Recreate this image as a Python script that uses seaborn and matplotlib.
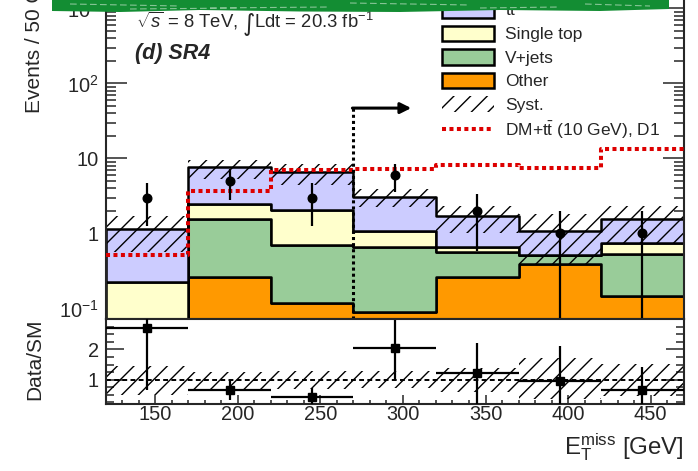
import numpy as np
import pandas as pd
import matplotlib
matplotlib.use("Agg")
import matplotlib.pyplot as plt
from matplotlib.patches import Patch, Polygon
from matplotlib.lines import Line2D
from matplotlib.ticker import MultipleLocator, LogLocator, NullFormatter, FixedLocator, FixedFormatter
import seaborn as sns

# ---- binning in E_T^miss [GeV] ----
bin_edges = [120, 170, 220, 270, 320, 370, 420, 470]
bin_centers = [145, 195, 245, 295, 345, 395, 445]

# ---- expected SM backgrounds per bin (events / 50 GeV) ----
bkg_other = [0.0, 0.262, 0.118, 0.089, 0.262, 0.394, 0.146]
bkg_vjets = [0.0, 1.308, 0.595, 0.568, 0.302, 0.126, 0.390]
bkg_single_top = [0.224, 0.870, 1.317, 0.413, 0.106, 0.0, 0.207]
bkg_ttbar = [0.931, 5.210, 4.540, 1.980, 1.030, 0.550, 0.797]

# ---- systematic uncertainty band on the total SM ----
syst_low = [0.57, 5.35, 4.47, 2.24, 1.00, 0.39, 0.72]
syst_high = [1.69, 9.60, 8.40, 3.94, 2.36, 1.83, 2.33]

# ---- signal: DM + ttbar (10 GeV), D1 ----
signal_dm = [0.52, 3.66, 7.07, 7.30, 8.07, 7.40, 13.2]

# ---- observed data ----
data_obs = [3, 5, 3, 6, 2, 1, 1]
data_err_low = [1.73, 2.24, 1.73, 2.45, 1.41, 0.99, 0.99]
data_err_high = [1.73, 2.24, 1.73, 2.45, 1.41, 1.00, 1.00]

# ---- data / SM ratio ----
ratio_val = [2.71, 0.66, 0.44, 2.06, 1.23, 0.97, 0.66]
ratio_err_low = [2.05, 0.33, 0.50, 1.02, 1.10, 1.00, 0.70]
ratio_err_high = [1.00, 0.33, 0.28, 0.91, 0.99, 1.14, 0.76]

# ---- signal-region cut ----
cut_met = 270
cut_arrow_end = 305
cut_arrow_y = 47

# ---- axis ticks ----
main_yticks = [0.1, 1, 10, 100, 1000]
main_ytick_labels = ["10$^{-1}$", "1", "10", "10$^{2}$", "10$^{3}$"]
ratio_yticks = [1, 2]
ratio_ytick_labels = ["1", "2"]
xticks = [150, 200, 250, 300, 350, 400, 450]

processes = ["t$\\bar{\\rm t}$", "Single top", "V+jets", "Other"]
colors = {"t$\\bar{\\rm t}$": "#ccccff", "Single top": "#ffffcc",
          "V+jets": "#99cc99", "Other": "#ff9900"}
signal_color = "#dd0000"

sns.set_style("ticks")
plt.rcParams["font.family"] = ["Liberation Sans", "DejaVu Sans"]
plt.rcParams["mathtext.fontset"] = "custom"
plt.rcParams["mathtext.rm"] = "Liberation Sans"
plt.rcParams["mathtext.it"] = "Liberation Sans:italic"
plt.rcParams["mathtext.bf"] = "Liberation Sans:bold"
plt.rcParams["hatch.linewidth"] = 1.0
plt.rcParams["axes.linewidth"] = 1.5

W, H = 698, 471
fig = plt.figure(figsize=(W / 100, H / 100), dpi=100)


def fx(px):
    return px / W


def fy(py):
    return 1 - py / H


ax_left, ax_right = 105.7, 683.7
ax = fig.add_axes([fx(ax_left), fy(319), (ax_right - ax_left) / W, (319 + 32) / H])
axr = fig.add_axes([fx(ax_left), fy(404), (ax_right - ax_left) / W, 85 / H])

# ---- stacked backgrounds ----
bkg = {"t$\\bar{\\rm t}$": bkg_ttbar, "Single top": bkg_single_top,
       "V+jets": bkg_vjets, "Other": bkg_other}
rows = []
for proc in processes:
    for c, v in zip(bin_centers, bkg[proc]):
        rows.append({"met": c, "events": v, "process": proc})
df = pd.DataFrame(rows)

ax.set_yscale("log")
sns.histplot(data=df, x="met", weights="events", hue="process", hue_order=processes,
             multiple="stack", bins=bin_edges, element="step", palette=colors,
             alpha=1, edgecolor="black", linewidth=1.8, legend=False, ax=ax, zorder=1)

edges = np.array(bin_edges, dtype=float)
total = np.array(bkg_other) + np.array(bkg_vjets) + np.array(bkg_single_top) + np.array(bkg_ttbar)

# systematic band
ax.fill_between(edges, np.append(syst_low, syst_low[-1]), np.append(syst_high, syst_high[-1]),
                step="post", facecolor="none", edgecolor="black", linewidth=0,
                hatch="//", zorder=2)

# signal
sig_df = pd.DataFrame({"met": bin_centers, "events": signal_dm})
sns.histplot(data=sig_df, x="met", weights="events", bins=bin_edges, element="step",
             fill=False, color=signal_color, linewidth=2.9, linestyle=(0, (1.0, 0.85)),
             ax=ax, zorder=3)

# data
ax.errorbar(bin_centers, data_obs, yerr=[data_err_low, data_err_high], fmt="o",
            color="black", ms=6.2, elinewidth=1.6, capsize=0, zorder=5)

# cut line and arrow
ymin, ymax = 10 ** -1.14, 10 ** 3.54
ax.plot([cut_met, cut_met], [ymin, cut_arrow_y], color="black", lw=2.2,
        linestyle=(0, (1.0, 1.0)), zorder=4)
ax.annotate("", xy=(cut_arrow_end, cut_arrow_y), xytext=(cut_met - 0.6, cut_arrow_y),
            arrowprops=dict(arrowstyle="-|>", lw=2.2, color="black",
                            mutation_scale=16, shrinkA=0, shrinkB=0), zorder=4)

ax.set_xlim(bin_edges[0], bin_edges[-1])
ax.set_ylim(ymin, ymax)
ax.set_xlabel("")
ax.set_ylabel("")
ax.yaxis.set_major_locator(FixedLocator(main_yticks))
ax.yaxis.set_major_formatter(FixedFormatter(main_ytick_labels))
ax.yaxis.set_minor_locator(LogLocator(base=10, subs=np.arange(2, 10)))
ax.yaxis.set_minor_formatter(NullFormatter())
ax.xaxis.set_major_locator(FixedLocator(xticks))
ax.xaxis.set_minor_locator(MultipleLocator(10))
ax.tick_params(axis="both", which="both", direction="in", top=True, right=True,
               labelbottom=False, width=1.1, labelsize=14.4)
ax.tick_params(axis="y", which="major", length=15, pad=5)
ax.tick_params(axis="y", which="minor", length=7.2)
ax.tick_params(axis="x", which="major", length=6.5)
ax.tick_params(axis="x", which="minor", length=3.2)

# ---- ratio panel ----
r_lo = np.array(syst_low) / total
r_hi = np.array(syst_high) / total
axr.fill_between(edges, np.append(r_lo, r_lo[-1]), np.append(r_hi, r_hi[-1]), step="post",
                 facecolor="none", edgecolor="black", linewidth=0, hatch="//", zorder=1)
axr.axhline(1.0, color="black", lw=1.4, linestyle=(0, (2.5, 1.7)), zorder=2)
half_width = np.diff(edges) / 2
axr.errorbar(bin_centers, ratio_val, xerr=half_width, yerr=[ratio_err_low, ratio_err_high],
             fmt="s", color="black", ms=5.6, elinewidth=1.6, capsize=0, zorder=3)
axr.set_xlim(bin_edges[0], bin_edges[-1])
axr.set_ylim(0.2, 3.0)
axr.yaxis.set_major_locator(FixedLocator(ratio_yticks))
axr.yaxis.set_major_formatter(FixedFormatter(ratio_ytick_labels))
axr.yaxis.set_minor_locator(MultipleLocator(0.25))
axr.xaxis.set_major_locator(FixedLocator(xticks))
axr.xaxis.set_minor_locator(MultipleLocator(10))
axr.tick_params(axis="both", which="both", direction="in", top=False, right=True,
                width=1.1, labelsize=14.4)
axr.tick_params(axis="y", which="major", length=13, pad=5)
axr.tick_params(axis="y", which="minor", length=5.8)
axr.tick_params(axis="x", which="major", length=6.5, pad=1)
axr.tick_params(axis="x", which="minor", length=3.2)

# ---- axis titles ----
fig.text(fx(35), fy(113), "Events / 50 GeV", rotation=90, ha="center", va="bottom",
         fontsize=15.0)
fig.text(fx(35), fy(359.5), "Data/SM", rotation=90, ha="center", va="center",
         fontsize=15.0)
fig.text(fx(683.5), fy(454), "E$_{\\rm T}^{\\rm miss}$ [GeV]", ha="right",
         va="baseline", fontsize=17.3)

# ---- labels ----
fig.text(fx(136.5), fy(28), "$\\sqrt{s}$ = 8 TeV,", fontsize=13.3, va="baseline")
fig.text(fx(243), fy(31), "\u222b", fontsize=17, va="baseline",
         family=["DejaVu Sans"])
fig.text(fx(254.5), fy(28), "Ldt = 20.3 fb$^{-1}$", fontsize=13.3, va="baseline")
fig.text(fx(135), fy(59), "(d) SR4", fontsize=15.5, fontweight="bold",
         fontstyle="italic", va="baseline")

# ---- legend ----
handles = [Patch(facecolor=colors[p], edgecolor="black", linewidth=1.8) for p in processes]
handles.append(Patch(facecolor="none", edgecolor="black", linewidth=0, hatch="//"))
handles.append(Line2D([0], [0], color=signal_color, lw=2.9, linestyle=(0, (1.0, 0.85))))
labels = processes + ["Syst.", "DM+t$\\bar{\\rm t}$ (10 GeV), D1"]
fig.legend(handles, labels, loc="upper left", bbox_to_anchor=(fx(442), fy(0.5)),
           bbox_transform=fig.transFigure, frameon=False, fontsize=12.5,
           handlelength=3.0, handleheight=1.0, labelspacing=0.39, handletextpad=0.65,
           borderpad=0, borderaxespad=0)

# ---- green marker band over the top edge ----
band_x = [52, 120, 200, 300, 400, 500, 600, 669]
band_bottom = [11, 12, 10, 11.5, 12, 10, 11, 9]
verts = [(fx(52), fy(-2))] + [(fx(x), fy(y)) for x, y in zip(band_x, band_bottom)] + [(fx(669), fy(-2))]
fig.patches.append(Polygon(verts, closed=True, transform=fig.transFigure,
                           facecolor="#138d33", edgecolor="none", zorder=10))
streaks = [((70, 4), (180, 6)), ((210, 8), (330, 7)), ((350, 3), (470, 5)),
           ((480, 8), (560, 7)), ((585, 4), (650, 6)), ((130, 9), (240, 8))]
for (x0, y0), (x1, y1) in streaks:
    fig.lines.append(Line2D([fx(x0), fx(x1)], [fy(y0), fy(y1)], transform=fig.transFigure,
                            color="#b8dcc0", lw=0.8, alpha=0.7, zorder=11,
                            linestyle=(0, (6, 3))))

fig.savefig("out.png", dpi=100)
